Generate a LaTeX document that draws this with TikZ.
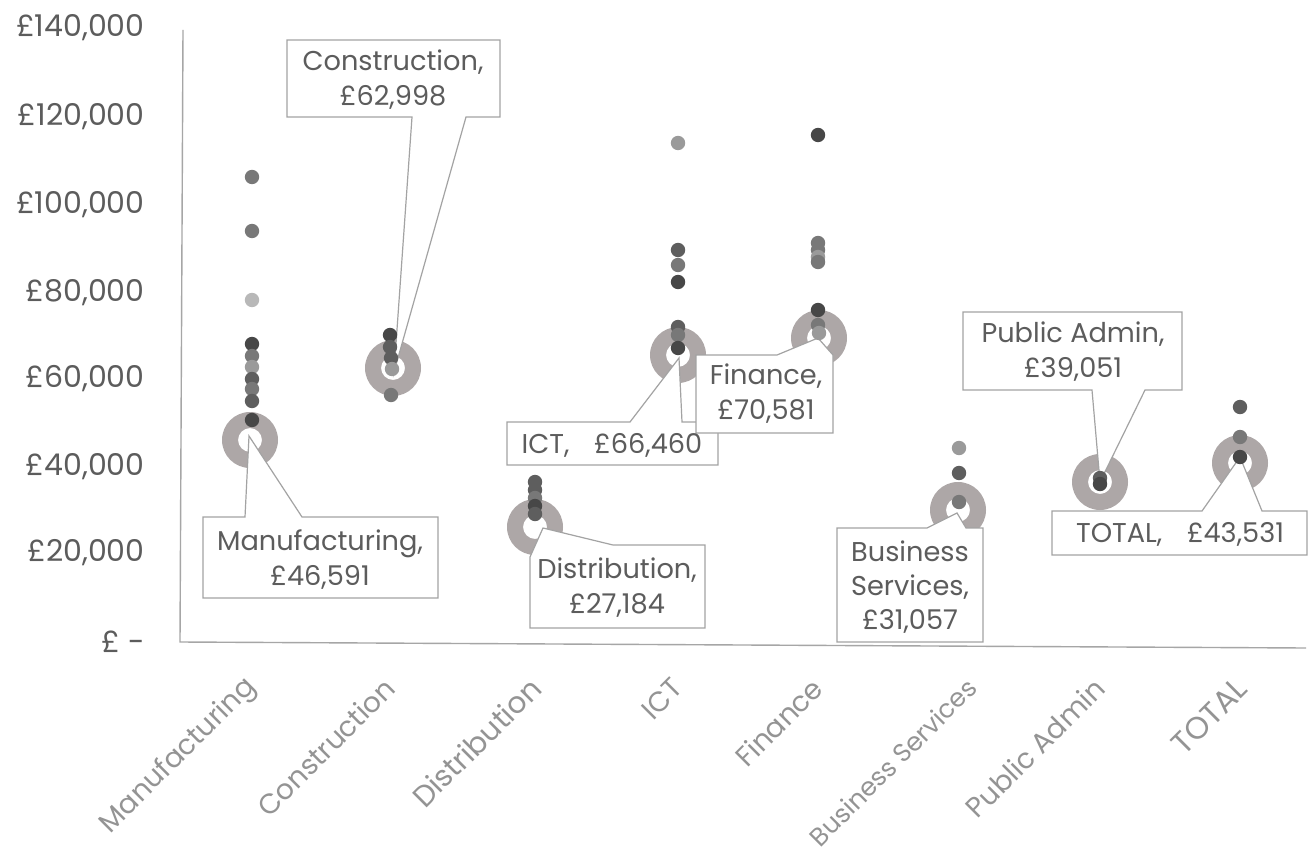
\documentclass[tikz,border=0pt]{standalone}
\usepackage{fontspec}
\setmainfont{Poppins}
\definecolor{txt}{HTML}{5C5C5C}
\definecolor{catc}{HTML}{949494}
\definecolor{axisc}{HTML}{A6A6A6}
\definecolor{ringc}{HTML}{ADA7A7}
\definecolor{boxc}{HTML}{A3A3A3}
\definecolor{dA}{HTML}{474747}
\definecolor{dB}{HTML}{5E5E5E}
\definecolor{dC}{HTML}{787878}
\definecolor{dD}{HTML}{9A9A9A}
\definecolor{dE}{HTML}{B8B8B8}
\tikzset{
  ylab/.style={anchor=east, text=txt, font=\fontsize{15}{15}\selectfont, inner sep=0pt},
  catlab/.style={anchor=east, rotate=45, text=catc, font=\fontsize{14}{14}\selectfont, inner sep=0pt},
  ringfill/.style={fill=ringc, even odd rule},
  callout/.style={fill=white, draw=boxc, line width=0.6pt, line join=miter},
  ctext/.style={text=txt, align=center, font=\fontsize{13.6}{17.5}\selectfont, inner sep=0pt},
  axisline/.style={draw=axisc, line width=0.7pt},
}
\newcommand{\ringat}[2]{\fill[ringfill] (#1,#2) circle[radius=14pt] circle[radius=6pt];}
\newcommand{\dotat}[3]{\fill[#3] (#1,#2) circle[radius=3.6pt];}
\begin{document}
\begin{tikzpicture}[x=0.5pt,y=-0.5pt]
\useasboundingbox (0,0) rectangle (1311,866);
\fill[white] (0,0) rectangle (1311,866);

% axes
\coordinate (ytop) at (183,30);
\coordinate (orig) at (180,642);
\coordinate (xend) at (1306,648);
\draw[axisline] (ytop) -- (orig) -- (xend);

% y labels
\node[ylab] (y140) at (145,28) {£140,000};
\node[ylab] (y120) at (145,117) {£120,000};
\node[ylab] (y100) at (145,205) {£100,000};
\node[ylab] (y80) at (145,293) {£80,000};
\node[ylab] (y60) at (145,379) {£60,000};
\node[ylab] (y40) at (145,467) {£40,000};
\node[ylab] (y20) at (145,553) {£20,000};
\node[ylab] (y0) at (145,642) {£ -};

% category labels
\node[catlab] (cMan) at (252,683) {Manufacturing};
\node[catlab] (cCon) at (390,683) {Construction};
\node[catlab, font=\fontsize{14.8}{14.8}\selectfont] (cDis) at (536,683) {Distribution};
\node[catlab] (cICT) at (678,683) {ICT};
\node[catlab] (cFin) at (818,683) {Finance};
\node[catlab, font=\fontsize{12.8}{12.8}\selectfont] (cBus) at (972,683) {Business Services};
\node[catlab] (cPub) at (1100,683) {Public Admin};
\node[catlab, font=\fontsize{15.5}{15.5}\selectfont] (cTot) at (1242,683) {TOTAL};

% rings (medians)
\ringat{250}{440}
\ringat{393}{368}
\ringat{535}{527}
\ringat{678}{355}
\ringat{819}{338}
\ringat{958}{510}
\ringat{1100}{482}
\ringat{1240}{463}

% callouts
\coordinate (pMan) at (249,436);
\coordinate (pCon) at (394,372);
\coordinate (pDis) at (543,528);
\coordinate (pICT) at (679,358);
\coordinate (pFin) at (818,338);
\coordinate (pBus) at (957,513);
\coordinate (pPub) at (1100,482);
\coordinate (pTot) at (1240,457);

\path[callout] (287,40) -- (500,40) -- (500,117) -- (466,117) -- (pCon) -- (412,117) -- (287,117) -- cycle;
\path[callout] (203,517) -- (245,517) -- (pMan) -- (302,517) -- (438,517) -- (438,598) -- (203,598) -- cycle;
\path[callout] (530,557) -- (pDis) -- (613,545) -- (705,545) -- (705,628) -- (530,628) -- cycle;
\path[callout] (507,422) -- (630,422) -- (pICT) -- (682,422) -- (718,422) -- (718,465) -- (507,465) -- cycle;
\path[callout] (696,355) -- (777,355) -- (pFin) -- (833,355) -- (833,433) -- (696,433) -- cycle;
\path[callout] (837,528) -- (927,528) -- (pBus) -- (966,528) -- (983,528) -- (983,642) -- (837,642) -- cycle;
\path[callout] (963,312) -- (1182,312) -- (1182,390) -- (1145,390) -- (pPub) -- (1092,390) -- (963,390) -- cycle;
\path[callout] (1052,511) -- (1202,511) -- (pTot) -- (1262,511) -- (1307,511) -- (1307,555) -- (1052,555) -- cycle;

% data points
% Manufacturing
\dotat{252}{177}{dC}
\dotat{252}{231}{dC}
\dotat{252}{300}{dE}
\dotat{252}{344}{dA}
\dotat{252}{356}{dC}
\dotat{252}{367}{dD}
\dotat{252}{379}{dB}
\dotat{252}{389}{dC}
\dotat{252}{401}{dB}
\dotat{252}{420}{dA}
% Construction
\dotat{390}{335}{dA}
\dotat{390}{347}{dB}
\dotat{391}{358}{dB}
\dotat{392}{369}{dD}
\dotat{391}{395}{dC}
% Distribution
\dotat{535}{482}{dB}
\dotat{535}{490}{dB}
\dotat{535}{498}{dC}
\dotat{535}{506}{dA}
\dotat{535}{514}{dB}
% ICT
\dotat{678}{143}{dD}
\dotat{678}{250}{dB}
\dotat{678}{265}{dC}
\dotat{678}{282}{dA}
\dotat{678}{327}{dB}
\dotat{678}{335}{dC}
\dotat{678}{348}{dA}
% Finance
\dotat{818}{135}{dA}
\dotat{818}{243}{dC}
\dotat{818}{250}{dC}
\dotat{818}{257}{dD}
\dotat{818}{262}{dC}
\dotat{818}{310}{dA}
\dotat{818}{325}{dC}
\dotat{819}{333}{dD}
% Business Services
\dotat{959}{448}{dD}
\dotat{959}{473}{dB}
\dotat{959}{502}{dC}
% Public Admin
\dotat{1100}{478}{dB}
\dotat{1100}{484}{dA}
% TOTAL
\dotat{1240}{407}{dB}
\dotat{1240}{437}{dC}
\dotat{1240}{457}{dA}

% callout texts
\node[ctext] (tCon) at (393,80) {Construction,\\£62,998};
\node[ctext] (tMan) at (320,560) {Manufacturing,\\£46,591};
\node[ctext] (tDis) at (617,588) {Distribution,\\£27,184};
\node[ctext] (tICT) at (612,445) {ICT,\hspace{0.9em}£66,460};
\node[ctext] (tFin) at (766,394) {Finance,\\£70,581};
\node[ctext, font=\fontsize{13.6}{16.8}\selectfont] (tBus) at (910,587) {Business\\Services,\\£31,057};
\node[ctext] (tPub) at (1073,352) {Public Admin,\\£39,051};
\node[ctext] (tTot) at (1180,534) {TOTAL,\hspace{0.9em}£43,531};
\end{tikzpicture}
\end{document}
